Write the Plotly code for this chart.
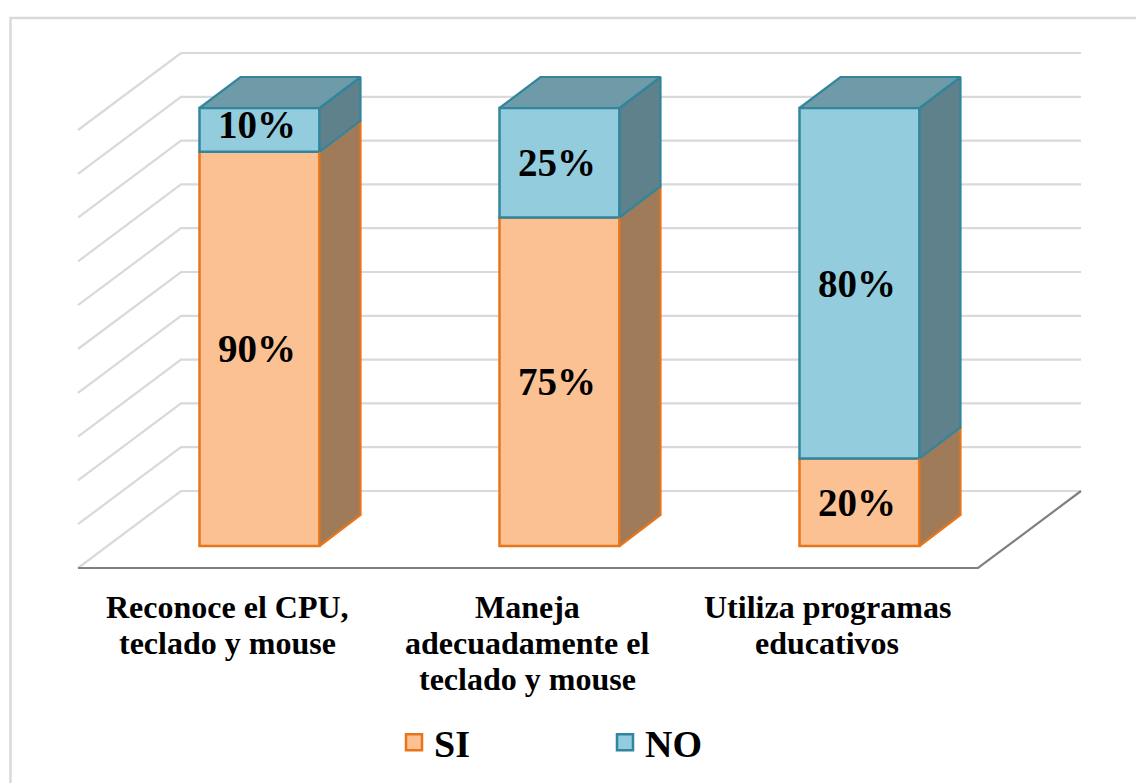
import plotly.graph_objects as go

# --- data ---
categories = [
    ["Reconoce el CPU,", "teclado y mouse"],
    ["Maneja", "adecuadamente el", "teclado y mouse"],
    ["Utiliza programas", "educativos"],
]
si_values = [90, 75, 20]
no_values = [10, 25, 80]
grid_ticks = [0, 10, 20, 30, 40, 50, 60, 70, 80, 90, 100]

# --- geometry: 1 x unit = one category (300 px), 1 y unit = 1 % (4.38 px) ---
PX_X, PX_Y = 300.0, 4.38
W, H = 1136, 783
X0_PX, Y0_PX = 78, 568                      # origin of the front floor edge
x_range = [-X0_PX / PX_X, (W - X0_PX) / PX_X]
y_range = [(Y0_PX - H) / PX_Y, Y0_PX / PX_Y]
wall_dx, wall_dy = 103 / PX_X, 77 / PX_Y    # wall depth
bar_off_x, bar_off_y = 31.5 / PX_X, 22 / PX_Y
bar_dx, bar_dy = 41 / PX_X, 31 / PX_Y       # bar depth
bar_w = 120 / PX_X

SERIF = "Liberation Serif"
SI_FRONT, SI_EDGE, SI_SIDE = "#FBC193", "#E8751A", "#9F7B5A"
NO_FRONT, NO_EDGE, NO_SIDE, NO_TOP = "#93CDDD", "#31859C", "#5E818C", "#6F9BA8"

fig = go.Figure()

# back wall / side wall gridlines
gx, gy = [], []
for t in grid_ticks:
    gx += [0, wall_dx, 3 + wall_dx, None]
    gy += [t, t + wall_dy, t + wall_dy, None]
fig.add_trace(go.Scatter(x=gx, y=gy, mode="lines", showlegend=False, hoverinfo="skip",
                         line=dict(color="#D9D9D9", width=2.2)))
# floor edges
fig.add_trace(go.Scatter(x=[0, 3, 3 + wall_dx], y=[0, 0, wall_dy], mode="lines",
                         showlegend=False, hoverinfo="skip",
                         line=dict(color="#808080", width=2.2)))

centers = [i + 0.5 + bar_off_x for i in range(len(si_values))]

# front faces
for name, vals, bases, front, edge in [
    ("SI", si_values, [0, 0, 0], SI_FRONT, SI_EDGE),
    ("NO", no_values, si_values, NO_FRONT, NO_EDGE),
]:
    fig.add_trace(go.Bar(x=centers, y=vals, base=[b + bar_off_y for b in bases], width=bar_w,
                         name=name, showlegend=False, xaxis="x2", yaxis="y2",
                         marker=dict(color=front, line=dict(color=edge, width=2.5))))


def face(xs, ys, fill, edge):
    fig.add_trace(go.Scatter(x=xs, y=ys, mode="lines", fill="toself", fillcolor=fill,
                             line=dict(color=edge, width=2.2), showlegend=False,
                             hoverinfo="skip", xaxis="x2", yaxis="y2"))


for c, s, n in zip(centers, si_values, no_values):
    r = c + bar_w / 2
    l = c - bar_w / 2
    y0, y1, y2 = bar_off_y, bar_off_y + s, bar_off_y + s + n
    face([r, r + bar_dx, r + bar_dx, r, r], [y0, y0 + bar_dy, y1 + bar_dy, y1, y0], SI_SIDE, SI_EDGE)
    face([r, r + bar_dx, r + bar_dx, r, r], [y1, y1 + bar_dy, y2 + bar_dy, y2, y1], NO_SIDE, NO_EDGE)
    face([l, r, r + bar_dx, l + bar_dx, l], [y2, y2, y2 + bar_dy, y2 + bar_dy, y2], NO_TOP, NO_EDGE)

# legend entries
for name, front, edge in [("SI", SI_FRONT, SI_EDGE), ("NO", NO_FRONT, NO_EDGE)]:
    fig.add_trace(go.Scatter(x=[None], y=[None], mode="markers", name=name,
                             marker=dict(symbol="square", size=18, color=front,
                                         line=dict(color=edge, width=2.5))))

annotations = []
# data labels
for c, s, n in zip(centers, si_values, no_values):
    for val, mid in [(s, bar_off_y + s / 2), (n, bar_off_y + s + n / 2)]:
        annotations.append(dict(x=c, y=mid, xref="x2", yref="y2", text=f"<b>{val}%</b>",
                                showarrow=False, xshift=-2.5,
                                yshift=5 if val == 10 else 0,
                                font=dict(family=SERIF, size=39, color="black")))
# category labels
for i, lines in enumerate(categories):
    for j, line in enumerate(lines):
        annotations.append(dict(x=i + 0.5, y=0, xref="x", yref="y", text=f"<b>{line}</b>",
                                showarrow=False, yanchor="middle", xshift=-0.7, yshift=-(38.5 + 36 * j),
                                font=dict(family=SERIF, size=32, color="black")))

axis_off = dict(visible=False, showgrid=False, zeroline=False, fixedrange=True)
fig.update_layout(
    width=W, height=H, margin=dict(l=0, r=0, t=0, b=0),
    paper_bgcolor="white", plot_bgcolor="rgba(0,0,0,0)",
    barmode="overlay", annotations=annotations,
    xaxis=dict(range=x_range, **axis_off),
    yaxis=dict(range=y_range, **axis_off),
    xaxis2=dict(range=x_range, overlaying="x", **axis_off),
    yaxis2=dict(range=y_range, overlaying="y", **axis_off),
    legend=dict(orientation="h", x=394 / W, y=1 - 711 / H, xanchor="left", yanchor="top",
                entrywidth=166, entrywidthmode="pixels", itemclick=False, itemdoubleclick=False,
                font=dict(family=SERIF, size=38, color="black", weight="bold"),
                bgcolor="rgba(0,0,0,0)"),
    shapes=[dict(type="path", xref="paper", yref="paper",
                 path=f"M {10.5 / W},0 L {10.5 / W},{1 - 18 / H} L 1,{1 - 18 / H}",
                 line=dict(color="#D9D9D9", width=2.5))],
)

fig.write_html("out.html", config={"displayModeBar": False},
               post_script="document.body.style.margin='0';")
